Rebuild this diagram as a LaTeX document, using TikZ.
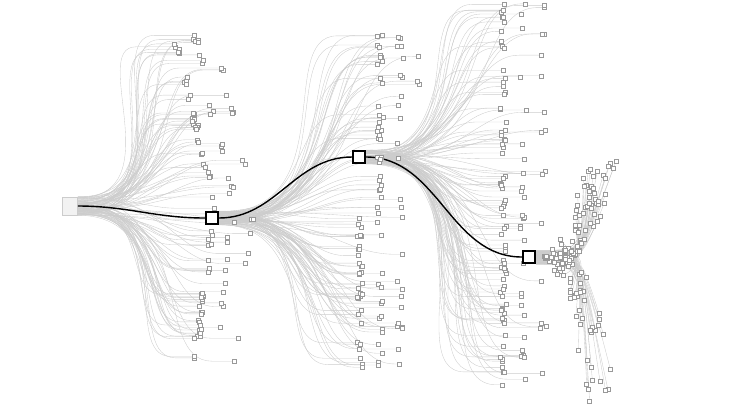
\documentclass[tikz,border=0pt]{standalone}
\usetikzlibrary{calc}
\tikzset{
  leaf/.style={draw=black!40,fill=white,line width=0.3pt,minimum size=0.08cm,inner sep=0pt},
  hub/.style={draw=black,fill=white,line width=0.9pt,minimum size=0.25cm,inner sep=0pt},
  edge/.style={draw=black!20,line width=0.2pt},
  sbend/.style={out=0,in=180,out looseness=1.5,in looseness=0.75},
  trunk/.style={draw=black,line width=0.8pt},
}
\begin{document}
\begin{tikzpicture}[x=0.02cm,y=-0.02cm]
\useasboundingbox (0,0) rectangle (730,410);
\pgfmathsetseed{5}
%Nguon
\node[draw=black!20,fill=black!5,minimum width=0.3cm,minimum height=0.36cm,inner sep=0pt] (src) at (70,206) {};
%Nut 1,2,3
\node[hub] (h1) at (212,218) {};
\node[hub] (h2) at (359,157) {};
\node[hub] (h3) at (529,257) {};
%Nhanh 1
\foreach \i in {1,...,110}{
  \pgfmathsetmacro{\ly}{35+330*rnd}
  \pgfmathsetmacro{\dd}{abs(\ly-206)}
  \pgfmathsetmacro{\k}{rnd<0.6?0:(rnd<0.7?1:2)}
  \pgfmathsetmacro{\lx}{(\ly<206?175+40*(1-\dd/170):194+20*(1-\dd/160))+20*\k+6*rnd-3}
  \pgfmathsetmacro{\bx}{\lx-4-38*rnd}
  \pgfmathsetmacro{\sy}{rnd}
  \coordinate (a\i) at (\lx,\ly);
  \draw[edge] ($(src.north east)!\sy!(src.south east)$) to[sbend] (\bx,\ly) -- ([xshift=-0.04cm]a\i);
}
%Nhanh 2
\foreach \i in {1,...,110}{
  \pgfmathsetmacro{\ly}{35+335*rnd}
  \pgfmathsetmacro{\k}{rnd<0.6?0:(rnd<0.7?1:2)}
  \pgfmathsetmacro{\lx}{(\ly<218?380:360)+20*\k+6*rnd-3}
  \pgfmathsetmacro{\bx}{\lx-4-38*rnd}
  \pgfmathsetmacro{\sy}{rnd}
  \coordinate (b\i) at (\lx,\ly);
  \draw[edge] ($(h1.north east)!\sy!(h1.south east)$) to[sbend] (\bx,\ly) -- ([xshift=-0.04cm]b\i);
}
%Nhanh 3
\foreach \i in {1,...,120}{
  \pgfmathsetmacro{\ly}{3+385*rnd}
  \pgfmathsetmacro{\k}{rnd<0.6?0:(rnd<0.7?1:2)}
  \pgfmathsetmacro{\lx}{503+20*\k+6*rnd-3}
  \pgfmathsetmacro{\bx}{\lx-4-38*rnd}
  \pgfmathsetmacro{\sy}{rnd}
  \coordinate (c\i) at (\lx,\ly);
  \draw[edge] ($(h2.north east)!\sy!(h2.south east)$) to[sbend] (\bx,\ly) -- ([xshift=-0.04cm]c\i);
}
%Nhanh 4
\foreach \i in {1,...,150}{
  \pgfmathsetmacro{\u}{2*rnd-1}
  \pgfmathsetmacro{\ly}{257+(\u<0?100:145)*\u*abs(\u)}
  \pgfmathsetmacro{\lx}{538+30*rnd+50*abs(\u)}
  \pgfmathsetmacro{\sy}{rnd}
  \coordinate (d\i) at (\lx,\ly);
  \draw[edge] ($(h3.north east)!\sy!(h3.south east)$) .. controls +(45,0) .. (d\i);
}
%Duong chinh
\draw[trunk] (src.east) to[out=0,in=180] (h1.west);
\draw[trunk] (h1.east) to[out=0,in=180] (h2.west);
\draw[trunk] (h2.east) to[out=0,in=180] (h3.west);
%La
\foreach \i in {1,...,110}{\node[leaf] (la\i) at (a\i) {}; \node[leaf] (lb\i) at (b\i) {};}
\foreach \i in {1,...,120}{\node[leaf] (lc\i) at (c\i) {};}
\foreach \i in {1,...,150}{\node[leaf] (ld\i) at (d\i) {};}
%Nut tren cung
\node[hub] at (h1) {};
\node[hub] at (h2) {};
\node[hub] at (h3) {};
\end{tikzpicture}
\end{document}
